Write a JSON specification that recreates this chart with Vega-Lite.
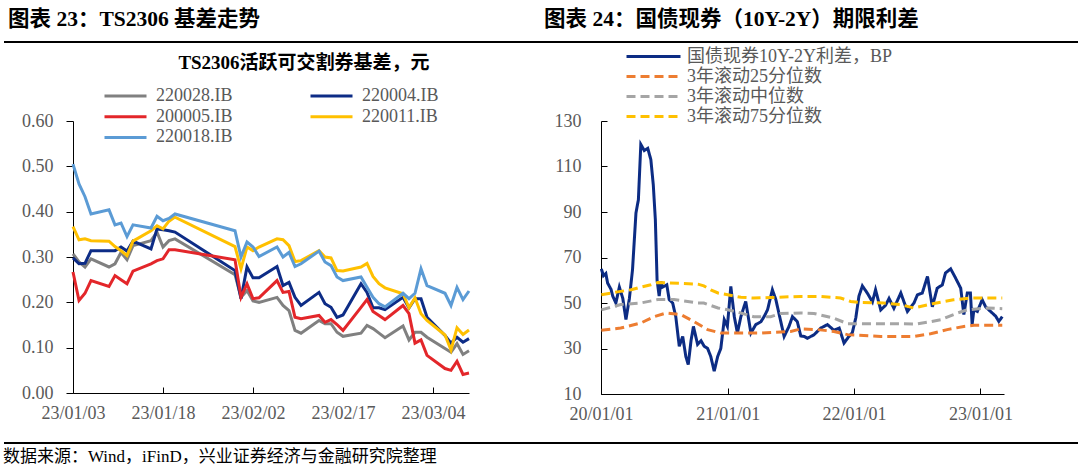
{
"$schema": "https://vega.github.io/schema/vega-lite/v6.json",
"background": "white",
"padding": {"left": 3, "top": 8, "right": 0, "bottom": 0},
"config": {
  "view": {"stroke": null},
  "font": "Liberation Serif, Noto Sans CJK SC",
  "axis": {"grid": false, "domainColor": "#000", "tickColor": "#000", "labelColor": "#595959", "labelFontSize": 18, "labelFont": "Liberation Serif", "domainWidth": 1, "tickWidth": 1, "labelOverlap": false, "labelFlush": false},
  "legend": {"labelFont": "Liberation Serif, Noto Sans CJK SC", "labelFontSize": 18, "labelColor": "#595959", "symbolType": "stroke", "symbolStrokeWidth": 3, "padding": 0, "titlePadding": 0, "labelLimit": 400}
},
"datasets": {
  "ts": [
    {"d":"2023/01/03","s":"220028.IB","v":0.307},{"d":"2023/01/03","s":"220004.IB","v":0.298},{"d":"2023/01/03","s":"200005.IB","v":0.267},{"d":"2023/01/03","s":"220011.IB","v":0.367},{"d":"2023/01/03","s":"220018.IB","v":0.505},
    {"d":"2023/01/04","s":"220028.IB","v":0.289},{"d":"2023/01/04","s":"220004.IB","v":0.285},{"d":"2023/01/04","s":"200005.IB","v":0.204},{"d":"2023/01/04","s":"220011.IB","v":0.338},{"d":"2023/01/04","s":"220018.IB","v":0.461},
    {"d":"2023/01/05","s":"220028.IB","v":0.278},{"d":"2023/01/05","s":"220004.IB","v":0.286},{"d":"2023/01/05","s":"200005.IB","v":0.220},{"d":"2023/01/05","s":"220011.IB","v":0.340},{"d":"2023/01/05","s":"220018.IB","v":0.433},
    {"d":"2023/01/06","s":"220028.IB","v":0.296},{"d":"2023/01/06","s":"220004.IB","v":0.314},{"d":"2023/01/06","s":"200005.IB","v":0.248},{"d":"2023/01/06","s":"220011.IB","v":0.336},{"d":"2023/01/06","s":"220018.IB","v":0.395},
    {"d":"2023/01/09","s":"220028.IB","v":0.278},{"d":"2023/01/09","s":"220004.IB","v":0.314},{"d":"2023/01/09","s":"200005.IB","v":0.235},{"d":"2023/01/09","s":"220011.IB","v":0.335},{"d":"2023/01/09","s":"220018.IB","v":0.404},
    {"d":"2023/01/10","s":"220028.IB","v":0.285},{"d":"2023/01/10","s":"220004.IB","v":0.314},{"d":"2023/01/10","s":"200005.IB","v":0.259},{"d":"2023/01/10","s":"220011.IB","v":0.323},{"d":"2023/01/10","s":"220018.IB","v":0.371},
    {"d":"2023/01/11","s":"220028.IB","v":0.310},{"d":"2023/01/11","s":"220004.IB","v":0.322},{"d":"2023/01/11","s":"200005.IB","v":0.250},{"d":"2023/01/11","s":"220011.IB","v":0.314},{"d":"2023/01/11","s":"220018.IB","v":0.375},
    {"d":"2023/01/12","s":"220028.IB","v":0.294},{"d":"2023/01/12","s":"220004.IB","v":0.313},{"d":"2023/01/12","s":"200005.IB","v":0.241},{"d":"2023/01/12","s":"220011.IB","v":0.303},{"d":"2023/01/12","s":"220018.IB","v":0.345},
    {"d":"2023/01/13","s":"220028.IB","v":0.325},{"d":"2023/01/13","s":"220004.IB","v":0.335},{"d":"2023/01/13","s":"200005.IB","v":0.269},{"d":"2023/01/13","s":"220011.IB","v":0.335},{"d":"2023/01/13","s":"220018.IB","v":0.371},
    {"d":"2023/01/16","s":"220028.IB","v":0.336},{"d":"2023/01/16","s":"220004.IB","v":0.318},{"d":"2023/01/16","s":"200005.IB","v":0.285},{"d":"2023/01/16","s":"220011.IB","v":0.358},{"d":"2023/01/16","s":"220018.IB","v":0.364},
    {"d":"2023/01/17","s":"220028.IB","v":0.355},{"d":"2023/01/17","s":"220004.IB","v":0.362},{"d":"2023/01/17","s":"200005.IB","v":0.292},{"d":"2023/01/17","s":"220011.IB","v":0.369},{"d":"2023/01/17","s":"220018.IB","v":0.390},
    {"d":"2023/01/18","s":"220028.IB","v":0.322},{"d":"2023/01/18","s":"220004.IB","v":0.360},{"d":"2023/01/18","s":"200005.IB","v":0.296},{"d":"2023/01/18","s":"220011.IB","v":0.362},{"d":"2023/01/18","s":"220018.IB","v":0.380},
    {"d":"2023/01/19","s":"220028.IB","v":0.336},{"d":"2023/01/19","s":"220004.IB","v":0.358},{"d":"2023/01/19","s":"200005.IB","v":0.316},{"d":"2023/01/19","s":"220011.IB","v":0.379},{"d":"2023/01/19","s":"220018.IB","v":0.385},
    {"d":"2023/01/20","s":"220028.IB","v":0.340},{"d":"2023/01/20","s":"220004.IB","v":0.355},{"d":"2023/01/20","s":"200005.IB","v":0.316},{"d":"2023/01/20","s":"220011.IB","v":0.388},{"d":"2023/01/20","s":"220018.IB","v":0.395},
    {"d":"2023/01/30","s":"220028.IB","v":0.261},{"d":"2023/01/30","s":"220004.IB","v":0.270},{"d":"2023/01/30","s":"200005.IB","v":0.294},{"d":"2023/01/30","s":"220011.IB","v":0.323},{"d":"2023/01/30","s":"220018.IB","v":0.358},
    {"d":"2023/01/31","s":"220028.IB","v":0.211},{"d":"2023/01/31","s":"220004.IB","v":0.208},{"d":"2023/01/31","s":"200005.IB","v":0.211},{"d":"2023/01/31","s":"220011.IB","v":0.274},{"d":"2023/01/31","s":"220018.IB","v":0.300},
    {"d":"2023/02/01","s":"220028.IB","v":0.226},{"d":"2023/02/01","s":"220004.IB","v":0.278},{"d":"2023/02/01","s":"200005.IB","v":0.241},{"d":"2023/02/01","s":"220011.IB","v":0.322},{"d":"2023/02/01","s":"220018.IB","v":0.333},
    {"d":"2023/02/02","s":"220028.IB","v":0.203},{"d":"2023/02/02","s":"220004.IB","v":0.254},{"d":"2023/02/02","s":"200005.IB","v":0.208},{"d":"2023/02/02","s":"220011.IB","v":0.314},{"d":"2023/02/02","s":"220018.IB","v":0.322},
    {"d":"2023/02/03","s":"220028.IB","v":0.200},{"d":"2023/02/03","s":"220004.IB","v":0.254},{"d":"2023/02/03","s":"200005.IB","v":0.210},{"d":"2023/02/03","s":"220011.IB","v":0.322},{"d":"2023/02/03","s":"220018.IB","v":0.301},
    {"d":"2023/02/06","s":"220028.IB","v":0.211},{"d":"2023/02/06","s":"220004.IB","v":0.279},{"d":"2023/02/06","s":"200005.IB","v":0.248},{"d":"2023/02/06","s":"220011.IB","v":0.340},{"d":"2023/02/06","s":"220018.IB","v":0.322},
    {"d":"2023/02/07","s":"220028.IB","v":0.193},{"d":"2023/02/07","s":"220004.IB","v":0.237},{"d":"2023/02/07","s":"200005.IB","v":0.222},{"d":"2023/02/07","s":"220011.IB","v":0.338},{"d":"2023/02/07","s":"220018.IB","v":0.300},
    {"d":"2023/02/08","s":"220028.IB","v":0.182},{"d":"2023/02/08","s":"220004.IB","v":0.244},{"d":"2023/02/08","s":"200005.IB","v":0.224},{"d":"2023/02/08","s":"220011.IB","v":0.325},{"d":"2023/02/08","s":"220018.IB","v":0.310},
    {"d":"2023/02/09","s":"220028.IB","v":0.138},{"d":"2023/02/09","s":"220004.IB","v":0.211},{"d":"2023/02/09","s":"200005.IB","v":0.167},{"d":"2023/02/09","s":"220011.IB","v":0.290},{"d":"2023/02/09","s":"220018.IB","v":0.279},
    {"d":"2023/02/10","s":"220028.IB","v":0.132},{"d":"2023/02/10","s":"220004.IB","v":0.193},{"d":"2023/02/10","s":"200005.IB","v":0.164},{"d":"2023/02/10","s":"220011.IB","v":0.292},{"d":"2023/02/10","s":"220018.IB","v":0.285},
    {"d":"2023/02/13","s":"220028.IB","v":0.160},{"d":"2023/02/13","s":"220004.IB","v":0.222},{"d":"2023/02/13","s":"200005.IB","v":0.171},{"d":"2023/02/13","s":"220011.IB","v":0.314},{"d":"2023/02/13","s":"220018.IB","v":0.313},
    {"d":"2023/02/14","s":"220028.IB","v":0.153},{"d":"2023/02/14","s":"220004.IB","v":0.197},{"d":"2023/02/14","s":"200005.IB","v":0.156},{"d":"2023/02/14","s":"220011.IB","v":0.300},{"d":"2023/02/14","s":"220018.IB","v":0.289},
    {"d":"2023/02/15","s":"220028.IB","v":0.153},{"d":"2023/02/15","s":"220004.IB","v":0.189},{"d":"2023/02/15","s":"200005.IB","v":0.162},{"d":"2023/02/15","s":"220011.IB","v":0.298},{"d":"2023/02/15","s":"220018.IB","v":0.281},
    {"d":"2023/02/16","s":"220028.IB","v":0.134},{"d":"2023/02/16","s":"220004.IB","v":0.167},{"d":"2023/02/16","s":"200005.IB","v":0.151},{"d":"2023/02/16","s":"220011.IB","v":0.270},{"d":"2023/02/16","s":"220018.IB","v":0.256},
    {"d":"2023/02/17","s":"220028.IB","v":0.125},{"d":"2023/02/17","s":"220004.IB","v":0.172},{"d":"2023/02/17","s":"200005.IB","v":0.138},{"d":"2023/02/17","s":"220011.IB","v":0.269},{"d":"2023/02/17","s":"220018.IB","v":0.248},
    {"d":"2023/02/20","s":"220028.IB","v":0.132},{"d":"2023/02/20","s":"220004.IB","v":0.241},{"d":"2023/02/20","s":"200005.IB","v":0.189},{"d":"2023/02/20","s":"220011.IB","v":0.278},{"d":"2023/02/20","s":"220018.IB","v":0.256},
    {"d":"2023/02/21","s":"220028.IB","v":0.149},{"d":"2023/02/21","s":"220004.IB","v":0.222},{"d":"2023/02/21","s":"200005.IB","v":0.206},{"d":"2023/02/21","s":"220011.IB","v":0.286},{"d":"2023/02/21","s":"220018.IB","v":0.233},
    {"d":"2023/02/22","s":"220028.IB","v":0.142},{"d":"2023/02/22","s":"220004.IB","v":0.188},{"d":"2023/02/22","s":"200005.IB","v":0.180},{"d":"2023/02/22","s":"220011.IB","v":0.257},{"d":"2023/02/22","s":"220018.IB","v":0.211},
    {"d":"2023/02/23","s":"220028.IB","v":0.132},{"d":"2023/02/23","s":"220004.IB","v":0.188},{"d":"2023/02/23","s":"200005.IB","v":0.171},{"d":"2023/02/23","s":"220011.IB","v":0.241},{"d":"2023/02/23","s":"220018.IB","v":0.197},
    {"d":"2023/02/24","s":"220028.IB","v":0.122},{"d":"2023/02/24","s":"220004.IB","v":0.184},{"d":"2023/02/24","s":"200005.IB","v":0.162},{"d":"2023/02/24","s":"220011.IB","v":0.232},{"d":"2023/02/24","s":"220018.IB","v":0.190},
    {"d":"2023/02/27","s":"220028.IB","v":0.148},{"d":"2023/02/27","s":"220004.IB","v":0.211},{"d":"2023/02/27","s":"200005.IB","v":0.193},{"d":"2023/02/27","s":"220011.IB","v":0.219},{"d":"2023/02/27","s":"220018.IB","v":0.220},
    {"d":"2023/02/28","s":"220028.IB","v":0.117},{"d":"2023/02/28","s":"220004.IB","v":0.188},{"d":"2023/02/28","s":"200005.IB","v":0.175},{"d":"2023/02/28","s":"220011.IB","v":0.188},{"d":"2023/02/28","s":"220018.IB","v":0.208},
    {"d":"2023/03/01","s":"220028.IB","v":0.134},{"d":"2023/03/01","s":"220004.IB","v":0.208},{"d":"2023/03/01","s":"200005.IB","v":0.110},{"d":"2023/03/01","s":"220011.IB","v":0.210},{"d":"2023/03/01","s":"220018.IB","v":0.220},
    {"d":"2023/03/02","s":"220028.IB","v":0.134},{"d":"2023/03/02","s":"220004.IB","v":0.208},{"d":"2023/03/02","s":"200005.IB","v":0.117},{"d":"2023/03/02","s":"220011.IB","v":0.175},{"d":"2023/03/02","s":"220018.IB","v":0.274},
    {"d":"2023/03/03","s":"220028.IB","v":0.123},{"d":"2023/03/03","s":"220004.IB","v":0.167},{"d":"2023/03/03","s":"200005.IB","v":0.083},{"d":"2023/03/03","s":"220011.IB","v":0.160},{"d":"2023/03/03","s":"220018.IB","v":0.237},
    {"d":"2023/03/06","s":"220028.IB","v":0.098},{"d":"2023/03/06","s":"220004.IB","v":0.127},{"d":"2023/03/06","s":"200005.IB","v":0.054},{"d":"2023/03/06","s":"220011.IB","v":0.128},{"d":"2023/03/06","s":"220018.IB","v":0.220},
    {"d":"2023/03/07","s":"220028.IB","v":0.090},{"d":"2023/03/07","s":"220004.IB","v":0.110},{"d":"2023/03/07","s":"200005.IB","v":0.050},{"d":"2023/03/07","s":"220011.IB","v":0.095},{"d":"2023/03/07","s":"220018.IB","v":0.193},
    {"d":"2023/03/08","s":"220028.IB","v":0.109},{"d":"2023/03/08","s":"220004.IB","v":0.123},{"d":"2023/03/08","s":"200005.IB","v":0.070},{"d":"2023/03/08","s":"220011.IB","v":0.144},{"d":"2023/03/08","s":"220018.IB","v":0.233},
    {"d":"2023/03/09","s":"220028.IB","v":0.085},{"d":"2023/03/09","s":"220004.IB","v":0.112},{"d":"2023/03/09","s":"200005.IB","v":0.041},{"d":"2023/03/09","s":"220011.IB","v":0.129},{"d":"2023/03/09","s":"220018.IB","v":0.206},
    {"d":"2023/03/10","s":"220028.IB","v":0.093},{"d":"2023/03/10","s":"220004.IB","v":0.120},{"d":"2023/03/10","s":"200005.IB","v":0.044},{"d":"2023/03/10","s":"220011.IB","v":0.139},{"d":"2023/03/10","s":"220018.IB","v":0.225}
  ],
  "sp": [
    {"d":"2020/01/02","s":"国债现券10Y-2Y利差，BP","v":65},{"d":"2020/01/08","s":"国债现券10Y-2Y利差，BP","v":62},{"d":"2020/01/15","s":"国债现券10Y-2Y利差，BP","v":63},{"d":"2020/01/20","s":"国债现券10Y-2Y利差，BP","v":58.8},{"d":"2020/01/30","s":"国债现券10Y-2Y利差，BP","v":56},{"d":"2020/02/04","s":"国债现券10Y-2Y利差，BP","v":53},{"d":"2020/02/13","s":"国债现券10Y-2Y利差，BP","v":50},{"d":"2020/02/23","s":"国债现券10Y-2Y利差，BP","v":57},{"d":"2020/03/04","s":"国债现券10Y-2Y利差，BP","v":52},{"d":"2020/03/13","s":"国债现券10Y-2Y利差，BP","v":42.7},{"d":"2020/03/23","s":"国债现券10Y-2Y利差，BP","v":52},{"d":"2020/04/01","s":"国债现券10Y-2Y利差，BP","v":64.6},{"d":"2020/04/11","s":"国债现券10Y-2Y利差，BP","v":89.6},{"d":"2020/04/18","s":"国债现券10Y-2Y利差，BP","v":95.4},{"d":"2020/04/25","s":"国债现券10Y-2Y利差，BP","v":119.7},{"d":"2020/05/05","s":"国债现券10Y-2Y利差，BP","v":117},{"d":"2020/05/15","s":"国债现券10Y-2Y利差，BP","v":118},{"d":"2020/05/24","s":"国债现券10Y-2Y利差，BP","v":113},{"d":"2020/05/31","s":"国债现券10Y-2Y利差，BP","v":102},{"d":"2020/06/06","s":"国债现券10Y-2Y利差，BP","v":86.6},{"d":"2020/06/11","s":"国债现券10Y-2Y利差，BP","v":60},{"d":"2020/06/17","s":"国债现券10Y-2Y利差，BP","v":53},{"d":"2020/06/22","s":"国债现券10Y-2Y利差，BP","v":59.5},{"d":"2020/06/27","s":"国债现券10Y-2Y利差，BP","v":57},{"d":"2020/07/09","s":"国债现券10Y-2Y利差，BP","v":58},{"d":"2020/07/16","s":"国债现券10Y-2Y利差，BP","v":51.5},{"d":"2020/07/26","s":"国债现券10Y-2Y利差，BP","v":50},{"d":"2020/08/04","s":"国债现券10Y-2Y利差，BP","v":44},{"d":"2020/08/14","s":"国债现券10Y-2Y利差，BP","v":31},{"d":"2020/08/24","s":"国债现券10Y-2Y利差，BP","v":35.3},{"d":"2020/09/02","s":"国债现券10Y-2Y利差，BP","v":26.5},{"d":"2020/09/09","s":"国债现券10Y-2Y利差，BP","v":22.9},{"d":"2020/09/17","s":"国债现券10Y-2Y利差，BP","v":33.4},{"d":"2020/09/24","s":"国债现券10Y-2Y利差，BP","v":39.7},{"d":"2020/10/06","s":"国债现券10Y-2Y利差，BP","v":31.8},{"d":"2020/10/16","s":"国债现券10Y-2Y利差，BP","v":33.4},{"d":"2020/10/25","s":"国债现券10Y-2Y利差，BP","v":31},{"d":"2020/11/04","s":"国债现券10Y-2Y利差，BP","v":30},{"d":"2020/11/13","s":"国债现券10Y-2Y利差，BP","v":26.5},{"d":"2020/11/23","s":"国债现券10Y-2Y利差，BP","v":20},{"d":"2020/12/03","s":"国债现券10Y-2Y利差，BP","v":26.5},{"d":"2020/12/12","s":"国债现券10Y-2Y利差，BP","v":30},{"d":"2020/12/22","s":"国债现券10Y-2Y利差，BP","v":42.7},{"d":"2020/12/31","s":"国债现券10Y-2Y利差，BP","v":39.7},
    {"d":"2021/01/10","s":"国债现券10Y-2Y利差，BP","v":57.3},{"d":"2021/01/20","s":"国债现券10Y-2Y利差，BP","v":44},{"d":"2021/01/29","s":"国债现券10Y-2Y利差，BP","v":36.8},{"d":"2021/02/08","s":"国债现券10Y-2Y利差，BP","v":44},{"d":"2021/02/22","s":"国债现券10Y-2Y利差，BP","v":50.7},{"d":"2021/03/09","s":"国债现券10Y-2Y利差，BP","v":36.8},{"d":"2021/03/23","s":"国债现券10Y-2Y利差，BP","v":40.5},{"d":"2021/04/07","s":"国债现券10Y-2Y利差，BP","v":41.8},{"d":"2021/04/16","s":"国债现券10Y-2Y利差，BP","v":44},{"d":"2021/04/26","s":"国债现券10Y-2Y利差，BP","v":47},{"d":"2021/05/10","s":"国债现券10Y-2Y利差，BP","v":55.8},{"d":"2021/05/20","s":"国债现券10Y-2Y利差，BP","v":51.5},{"d":"2021/06/03","s":"国债现券10Y-2Y利差，BP","v":42},{"d":"2021/06/13","s":"国债现券10Y-2Y利差，BP","v":35.3},{"d":"2021/06/27","s":"国债现券10Y-2Y利差，BP","v":39.7},{"d":"2021/07/07","s":"国债现券10Y-2Y利差，BP","v":44},{"d":"2021/07/21","s":"国债现券10Y-2Y利差，BP","v":41.8},{"d":"2021/07/31","s":"国债现券10Y-2Y利差，BP","v":35.5},{"d":"2021/08/10","s":"国债现券10Y-2Y利差，BP","v":35.3},{"d":"2021/08/19","s":"国债现券10Y-2Y利差，BP","v":34.5},{"d":"2021/09/07","s":"国债现券10Y-2Y利差，BP","v":36},{"d":"2021/09/27","s":"国债现券10Y-2Y利差，BP","v":39},{"d":"2021/10/16","s":"国债现券10Y-2Y利差，BP","v":40.5},{"d":"2021/11/04","s":"国债现券10Y-2Y利差，BP","v":38},{"d":"2021/11/19","s":"国债现券10Y-2Y利差，BP","v":39},{"d":"2021/12/03","s":"国债现券10Y-2Y利差，BP","v":32.4},{"d":"2021/12/17","s":"国债现券10Y-2Y利差，BP","v":35.3},{"d":"2021/12/27","s":"国债现券10Y-2Y利差，BP","v":37},
    {"d":"2022/01/06","s":"国债现券10Y-2Y利差，BP","v":43.5},{"d":"2022/01/15","s":"国债现券10Y-2Y利差，BP","v":53},{"d":"2022/01/25","s":"国债现券10Y-2Y利差，BP","v":57.5},{"d":"2022/02/08","s":"国债现券10Y-2Y利差，BP","v":54.4},{"d":"2022/02/23","s":"国债现券10Y-2Y利差，BP","v":50.5},{"d":"2022/03/04","s":"国债现券10Y-2Y利差，BP","v":55.8},{"d":"2022/03/19","s":"国债现券10Y-2Y利差，BP","v":47},{"d":"2022/04/02","s":"国债现券10Y-2Y利差，BP","v":49},{"d":"2022/04/12","s":"国债现券10Y-2Y利差，BP","v":52},{"d":"2022/04/26","s":"国债现券10Y-2Y利差，BP","v":47.7},{"d":"2022/05/16","s":"国债现券10Y-2Y利差，BP","v":54.4},{"d":"2022/06/04","s":"国债现券10Y-2Y利差，BP","v":46.3},{"d":"2022/06/23","s":"国债现券10Y-2Y利差，BP","v":50},{"d":"2022/07/03","s":"国债现券10Y-2Y利差，BP","v":53.6},{"d":"2022/07/17","s":"国债现券10Y-2Y利差，BP","v":54.4},{"d":"2022/08/01","s":"国债现券10Y-2Y利差，BP","v":61.7},{"d":"2022/08/15","s":"国债现券10Y-2Y利差，BP","v":48.3},{"d":"2022/08/29","s":"国债现券10Y-2Y利差，BP","v":56.5},{"d":"2022/09/13","s":"国债现券10Y-2Y利差，BP","v":58},{"d":"2022/09/22","s":"国债现券10Y-2Y利差，BP","v":63.2},{"d":"2022/10/07","s":"国债现券10Y-2Y利差，BP","v":65},{"d":"2022/10/21","s":"国债现券10Y-2Y利差，BP","v":61},{"d":"2022/11/05","s":"国债现券10Y-2Y利差，BP","v":56.5},{"d":"2022/11/14","s":"国债现券10Y-2Y利差，BP","v":44.9},{"d":"2022/11/24","s":"国债现券10Y-2Y利差，BP","v":54.4},{"d":"2022/12/03","s":"国债现券10Y-2Y利差，BP","v":54.4},{"d":"2022/12/08","s":"国债现券10Y-2Y利差，BP","v":40.5},{"d":"2022/12/13","s":"国债现券10Y-2Y利差，BP","v":47},{"d":"2022/12/23","s":"国债现券10Y-2Y利差，BP","v":46.3},
    {"d":"2023/01/06","s":"国债现券10Y-2Y利差，BP","v":51.4},{"d":"2023/01/16","s":"国债现券10Y-2Y利差，BP","v":48.3},{"d":"2023/01/30","s":"国债现券10Y-2Y利差，BP","v":46.3},{"d":"2023/02/14","s":"国债现券10Y-2Y利差，BP","v":44.2},{"d":"2023/02/23","s":"国债现券10Y-2Y利差，BP","v":41.9},{"d":"2023/03/05","s":"国债现券10Y-2Y利差，BP","v":44},
    {"d":"2020/01/02","s":"3年滚动25分位数","v":38},{"d":"2020/02/27","s":"3年滚动25分位数","v":39},{"d":"2020/04/25","s":"3年滚动25分位数","v":41.2},{"d":"2020/06/02","s":"3年滚动25分位数","v":44},{"d":"2020/07/07","s":"3年滚动25分位数","v":45.6},{"d":"2020/08/19","s":"3年滚动25分位数","v":44.9},{"d":"2020/09/25","s":"3年滚动25分位数","v":41.9},{"d":"2020/11/04","s":"3年滚动25分位数","v":38.3},{"d":"2020/12/12","s":"3年滚动25分位数","v":36.8},{"d":"2021/04/07","s":"3年滚动25分位数","v":36.8},{"d":"2021/07/02","s":"3年滚动25分位数","v":37.5},{"d":"2021/07/31","s":"3年滚动25分位数","v":38.6},{"d":"2021/09/18","s":"3年滚动25分位数","v":38.3},{"d":"2021/11/04","s":"3年滚动25分位数","v":37.5},{"d":"2021/12/13","s":"3年滚动25分位数","v":36.1},{"d":"2022/03/19","s":"3年滚动25分位数","v":35.3},{"d":"2022/06/22","s":"3年滚动25分位数","v":35.3},{"d":"2022/08/10","s":"3年滚动25分位数","v":36.5},{"d":"2022/09/27","s":"3年滚动25分位数","v":38.3},{"d":"2022/11/14","s":"3年滚动25分位数","v":39.7},{"d":"2022/12/13","s":"3年滚动25分位数","v":40.2},{"d":"2023/03/05","s":"3年滚动25分位数","v":40.2},
    {"d":"2020/01/02","s":"3年滚动中位数","v":47},{"d":"2020/02/27","s":"3年滚动中位数","v":49.3},{"d":"2020/04/25","s":"3年滚动中位数","v":50},{"d":"2020/06/13","s":"3年滚动中位数","v":51.5},{"d":"2020/07/30","s":"3年滚动中位数","v":51.5},{"d":"2020/10/07","s":"3年滚动中位数","v":50},{"d":"2020/10/24","s":"3年滚动中位数","v":50},{"d":"2020/12/04","s":"3年滚动中位数","v":47.8},{"d":"2021/01/01","s":"3年滚动中位数","v":47},{"d":"2021/02/08","s":"3年滚动中位数","v":45.6},{"d":"2021/03/17","s":"3年滚动中位数","v":44},{"d":"2021/05/05","s":"3年滚动中位数","v":44},{"d":"2021/06/03","s":"3年滚动中位数","v":45.4},{"d":"2021/07/31","s":"3年滚动中位数","v":45.6},{"d":"2021/09/07","s":"3年滚动中位数","v":45.4},{"d":"2021/11/04","s":"3年滚动中位数","v":43.3},{"d":"2021/12/13","s":"3年滚动中位数","v":40.9},{"d":"2022/03/19","s":"3年滚动中位数","v":40.9},{"d":"2022/07/03","s":"3年滚动中位数","v":40.8},{"d":"2022/09/08","s":"3年滚动中位数","v":42.6},{"d":"2022/10/27","s":"3年滚动中位数","v":45.6},{"d":"2022/11/24","s":"3年滚动中位数","v":47},{"d":"2023/01/21","s":"3年滚动中位数","v":47.8},{"d":"2023/03/05","s":"3年滚动中位数","v":47.5},
    {"d":"2020/01/02","s":"3年滚动75分位数","v":53.6},{"d":"2020/02/22","s":"3年滚动75分位数","v":55},{"d":"2020/03/28","s":"3年滚动75分位数","v":55.8},{"d":"2020/04/25","s":"3年滚动75分位数","v":57},{"d":"2020/05/24","s":"3年滚动75分位数","v":58},{"d":"2020/06/13","s":"3年滚动75分位数","v":59},{"d":"2020/08/19","s":"3年滚动75分位数","v":58.6},{"d":"2020/10/07","s":"3年滚动75分位数","v":58.3},{"d":"2020/10/24","s":"3年滚动75分位数","v":57.5},{"d":"2020/11/13","s":"3年滚动75分位数","v":55.8},{"d":"2020/12/04","s":"3年滚动75分位数","v":54.4},{"d":"2021/01/01","s":"3年滚动75分位数","v":53.6},{"d":"2021/02/08","s":"3年滚动75分位数","v":52.5},{"d":"2021/03/17","s":"3年滚动75分位数","v":52.2},{"d":"2021/05/05","s":"3年滚动75分位数","v":52.4},{"d":"2021/07/31","s":"3年滚动75分位数","v":52.9},{"d":"2021/09/27","s":"3年滚动75分位数","v":52.9},{"d":"2021/11/23","s":"3年滚动75分位数","v":52.2},{"d":"2021/12/22","s":"3年滚动75分位数","v":50.7},{"d":"2022/01/20","s":"3年滚动75分位数","v":50.2},{"d":"2022/03/27","s":"3年滚动75分位数","v":50},{"d":"2022/05/16","s":"3年滚动75分位数","v":49.3},{"d":"2022/06/22","s":"3年滚动75分位数","v":47.8},{"d":"2022/08/19","s":"3年滚动75分位数","v":49.8},{"d":"2022/10/15","s":"3年滚动75分位数","v":51.4},{"d":"2022/12/03","s":"3年滚动75分位数","v":52.2},{"d":"2023/03/05","s":"3年滚动75分位数","v":52.2}
  ]
},
"concat": [
  {"width": 69, "height": 30, "data": {"values": [{}]},
   "mark": {"type": "rule", "color": "#000", "strokeWidth": 2},
   "encoding": {"y": {"datum": 1, "type": "quantitative", "scale": {"domain": [0, 1]}, "axis": null}},
   "title": {"text": "图表 23：TS2306 基差走势", "anchor": "start", "frame": "group", "fontSize": 21.5, "fontWeight": "bold", "color": "#000", "baseline": "alphabetic", "offset": -6, "dx": 4, "limit": 0}},
  {"width": 396, "height": 30, "data": {"values": [{}]},
   "mark": {"type": "rule", "color": "#000", "strokeWidth": 2},
   "encoding": {"y": {"datum": 1, "type": "quantitative", "scale": {"domain": [0, 1]}, "axis": null}}},
  {"width": 132, "height": 30, "data": {"values": [{}]},
   "mark": {"type": "rule", "color": "#000", "strokeWidth": 2},
   "encoding": {"y": {"datum": 1, "type": "quantitative", "scale": {"domain": [0, 1]}, "axis": null}},
   "title": {"text": "图表 24：国债现券（10Y-2Y）期限利差", "anchor": "start", "frame": "group", "fontSize": 21.5, "fontWeight": "bold", "color": "#000", "baseline": "alphabetic", "offset": -6, "dx": 75, "limit": 0}},
  {"width": 403, "height": 30, "data": {"values": [{}]},
   "mark": {"type": "rule", "color": "#000", "strokeWidth": 2},
   "encoding": {"y": {"datum": 1, "type": "quantitative", "scale": {"domain": [0, 1]}, "axis": null}}},
  {"width": 74, "height": 30, "data": {"values": [{}]},
   "mark": {"type": "rule", "color": "#000", "strokeWidth": 2},
   "encoding": {"y": {"datum": 1, "type": "quantitative", "scale": {"domain": [0, 1]}, "axis": null}}},

  {"width": 69, "height": 273, "data": {"values": [{}]}, "mark": {"type": "point", "size": 0, "opacity": 0}, "encoding": {}},
  {
    "width": 396, "height": 272,
    "data": {"name": "ts"},
    "title": {"text": "TS2306活跃可交割券基差，元", "fontSize": 19, "fontWeight": "bold", "color": "#000", "anchor": "middle", "frame": "group", "dx": 33, "baseline": "alphabetic", "offset": -1},
    "mark": {"type": "line", "strokeWidth": 3},
    "encoding": {
      "x": {"field": "d", "type": "temporal", "title": null,
            "scale": {"domain": [{"year": 2023, "month": 1, "date": 3}, {"year": 2023, "month": 3, "date": 10}]},
            "axis": {"format": "%y/%m/%d", "values": [{"year": 2023, "month": 1, "date": 3}, {"year": 2023, "month": 1, "date": 18}, {"year": 2023, "month": 2, "date": 2}, {"year": 2023, "month": 2, "date": 17}, {"year": 2023, "month": 3, "date": 4}], "tickSize": -6, "labelPadding": 17}},
      "y": {"field": "v", "type": "quantitative", "title": null,
            "scale": {"domain": [0, 0.6], "nice": false},
            "axis": {"values": [0, 0.1, 0.2, 0.3, 0.4, 0.5, 0.6], "format": ".2f", "tickSize": 7, "labelPadding": 13}},
      "color": {"field": "s", "type": "nominal",
                "scale": {"domain": ["220028.IB", "200005.IB", "220018.IB", "220004.IB", "220011.IB"], "range": ["#808080", "#E3262A", "#5B9BD5", "#0D2C86", "#FFC000"]},
                "legend": {"title": null, "orient": "none", "legendX": 30, "legendY": -34, "columns": 2, "columnPadding": 76, "rowPadding": 2.7, "clipHeight": 18, "symbolSize": 1764, "labelOffset": 8}}
    }
  },
  {"width": 132, "height": 273, "data": {"values": [{}]}, "mark": {"type": "point", "size": 0, "opacity": 0}, "encoding": {}},
  {
    "width": 403, "height": 273,
    "data": {"name": "sp"},
    "mark": {"type": "line", "strokeWidth": 3},
    "encoding": {
      "x": {"field": "d", "type": "temporal", "title": null,
            "scale": {"domain": [{"year": 2020, "month": 1, "date": 1}, {"year": 2023, "month": 3, "date": 10}]},
            "axis": {"format": "%y/%m/%d", "values": [{"year": 2020, "month": 1, "date": 1}, {"year": 2021, "month": 1, "date": 1}, {"year": 2022, "month": 1, "date": 1}, {"year": 2023, "month": 1, "date": 1}], "tickSize": -6, "labelPadding": 17}},
      "y": {"field": "v", "type": "quantitative", "title": null,
            "scale": {"domain": [10, 130], "nice": false},
            "axis": {"values": [10, 30, 50, 70, 90, 110, 130], "format": "d", "tickSize": -6, "labelPadding": 26}},
      "color": {"field": "s", "type": "nominal",
                "scale": {"domain": ["国债现券10Y-2Y利差，BP", "3年滚动25分位数", "3年滚动中位数", "3年滚动75分位数"], "range": ["#0C2C84", "#ED7D31", "#A5A5A5", "#FFC000"]},
                "legend": {"title": null, "orient": "none", "legendX": 24, "legendY": -73.4, "columns": 1, "rowPadding": 2, "clipHeight": 18, "symbolSize": 2916, "labelOffset": 5}},
      "strokeDash": {"field": "s", "type": "nominal",
                "scale": {"domain": ["国债现券10Y-2Y利差，BP", "3年滚动25分位数", "3年滚动中位数", "3年滚动75分位数"], "range": [[1, 0], [9, 5], [9, 5], [9, 5]]},
                "legend": {"title": null, "orient": "none", "legendX": 24, "legendY": -73.4, "columns": 1, "rowPadding": 2, "clipHeight": 18, "symbolSize": 2916, "labelOffset": 5}}
    }
  },
  {"width": 74, "height": 273, "data": {"values": [{}]}, "mark": {"type": "point", "size": 0, "opacity": 0}, "encoding": {}},

  {"width": 69, "height": 2, "data": {"values": [{}]},
   "mark": {"type": "rule", "color": "#000", "strokeWidth": 2},
   "encoding": {"y": {"datum": 1, "type": "quantitative", "scale": {"domain": [0, 1]}, "axis": null}},
   "title": {"text": "数据来源：Wind，iFinD，兴业证券经济与金融研究院整理", "orient": "bottom", "anchor": "start", "frame": "group", "fontSize": 17, "fontWeight": "normal", "color": "#000", "baseline": "top", "offset": 4, "dx": -1, "limit": 0}},
  {"width": 396, "height": 2, "data": {"values": [{}]},
   "mark": {"type": "rule", "color": "#000", "strokeWidth": 2},
   "encoding": {"y": {"datum": 1, "type": "quantitative", "scale": {"domain": [0, 1]}, "axis": null}}},
  {"width": 132, "height": 2, "data": {"values": [{}]},
   "mark": {"type": "rule", "color": "#000", "strokeWidth": 2},
   "encoding": {"y": {"datum": 1, "type": "quantitative", "scale": {"domain": [0, 1]}, "axis": null}}},
  {"width": 403, "height": 2, "data": {"values": [{}]},
   "mark": {"type": "rule", "color": "#000", "strokeWidth": 2},
   "encoding": {"y": {"datum": 1, "type": "quantitative", "scale": {"domain": [0, 1]}, "axis": null}}},
  {"width": 74, "height": 2, "data": {"values": [{}]},
   "mark": {"type": "rule", "color": "#000", "strokeWidth": 2},
   "encoding": {"y": {"datum": 1, "type": "quantitative", "scale": {"domain": [0, 1]}, "axis": null}}}
],
"columns": 5,
"spacing": {"row": 49, "column": 0},
"bounds": "flush",
"resolve": {"scale": {"color": "independent", "strokeDash": "independent", "x": "independent", "y": "independent"}, "legend": {"color": "independent", "strokeDash": "independent"}}
}
